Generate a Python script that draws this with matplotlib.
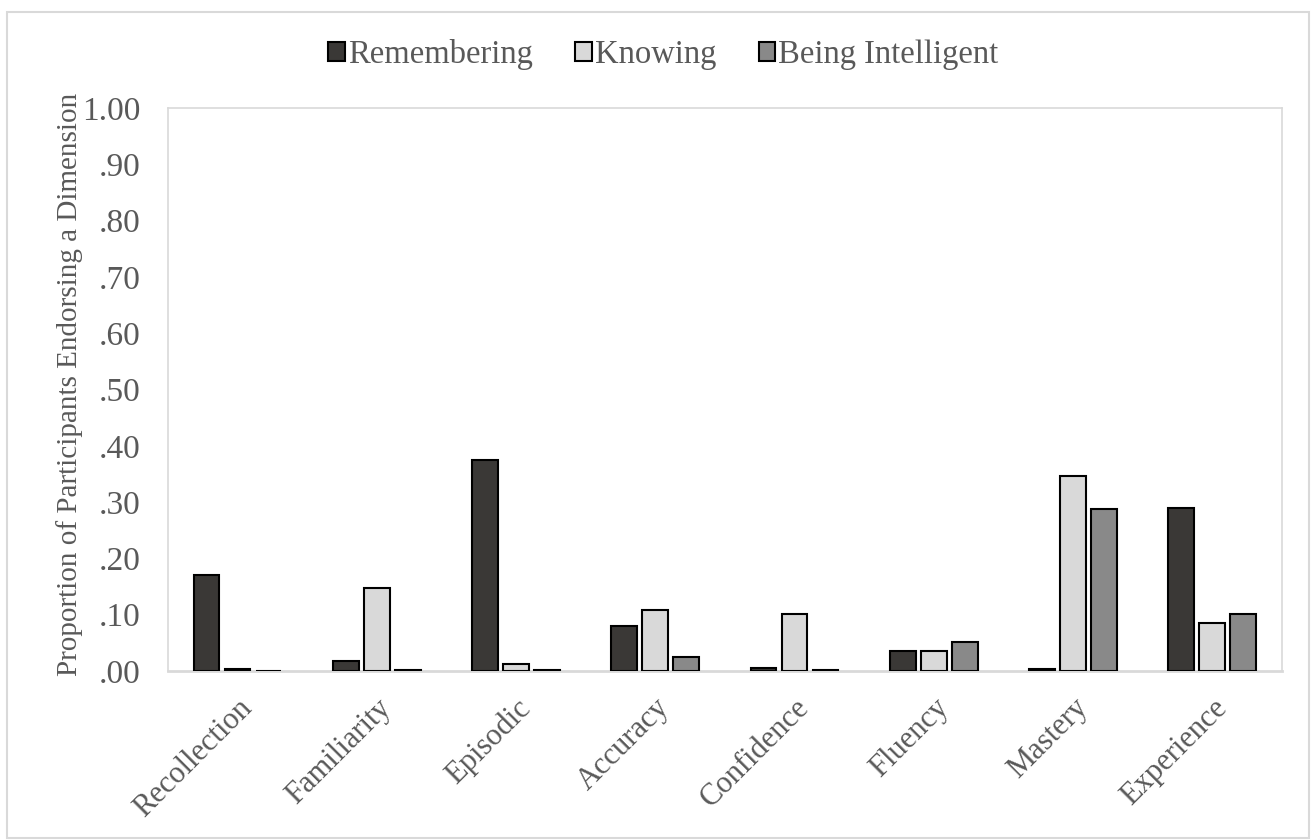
import matplotlib
matplotlib.use("Agg")
import matplotlib.pyplot as plt
from matplotlib.patches import Patch, Rectangle
import numpy as np

plt.rcParams['font.family'] = ['Liberation Serif', 'DejaVu Serif']

categories = ["Recollection", "Familiarity", "Episodic", "Accuracy",
              "Confidence", "Fluency", "Mastery", "Experience"]
remembering = [0.170, 0.017, 0.374, 0.080, 0.005, 0.035, 0.004, 0.290]
knowing = [0.003, 0.147, 0.013, 0.108, 0.102, 0.035, 0.346, 0.086]
being_intelligent = [0.000, 0.002, 0.002, 0.025, 0.002, 0.051, 0.287, 0.102]
series_names = ["Remembering", "Knowing", "Being Intelligent"]
colors = ["#3a3836", "#d9d9d9", "#898989"]
yticks = [0, .1, .2, .3, .4, .5, .6, .7, .8, .9, 1.0]
ytick_labels = [".00", ".10", ".20", ".30", ".40", ".50", ".60", ".70", ".80", ".90", "1.00"]

text_col = "#595959"
grid_col = "#d9d9d9"

fig = plt.figure(figsize=(13.11, 8.4), dpi=100)
ax = fig.add_axes([0.1281, 0.2012, 0.8497, 0.6702])

x = np.arange(len(categories))
step = 0.2226
width = 0.185
for i, (vals, name) in enumerate(zip([remembering, knowing, being_intelligent], series_names)):
    ax.bar(x + (i - 1) * step, vals, width, color=colors[i], edgecolor="black",
           linewidth=1.5, label=name, zorder=3)

ax.set_xlim(-0.5, len(categories) - 0.5)
ax.set_ylim(0, 1.0)
ax.set_yticks(yticks)
ax.set_yticklabels(ytick_labels)
ax.set_xticks(x)
ax.set_xticklabels(categories, rotation=45, ha="right", va="top", rotation_mode="anchor")
ax.tick_params(axis="both", length=0, labelcolor=text_col)
ax.tick_params(axis="y", labelsize=24, pad=20)
ax.tick_params(axis="x", labelsize=22, pad=16)
for sp in ax.spines.values():
    sp.set_color(grid_col)
    sp.set_linewidth(1.2)
ax.spines["bottom"].set_linewidth(2)

ax.set_ylabel("Proportion of Participants Endorsing a Dimension", fontsize=21,
              color=text_col)
ax.yaxis.set_label_coords(-0.076, 0.51)

handles = [Patch(facecolor=c, edgecolor="black", linewidth=1.5) for c in colors]
fig.legend(handles, series_names, loc="center", bbox_to_anchor=(0.506, 0.935),
           ncol=3, frameon=False, fontsize=23.5, labelcolor=text_col,
           handlelength=0.5, handleheight=0.5, handletextpad=0.1, columnspacing=1.3)

# outer chart border
fig.patches.append(Rectangle((7 / 1311, 0.002), 1302 / 1311, 826 / 840, transform=fig.transFigure,
                             fill=False, edgecolor=grid_col, linewidth=1.5))

fig.savefig("out.png", dpi=100)
